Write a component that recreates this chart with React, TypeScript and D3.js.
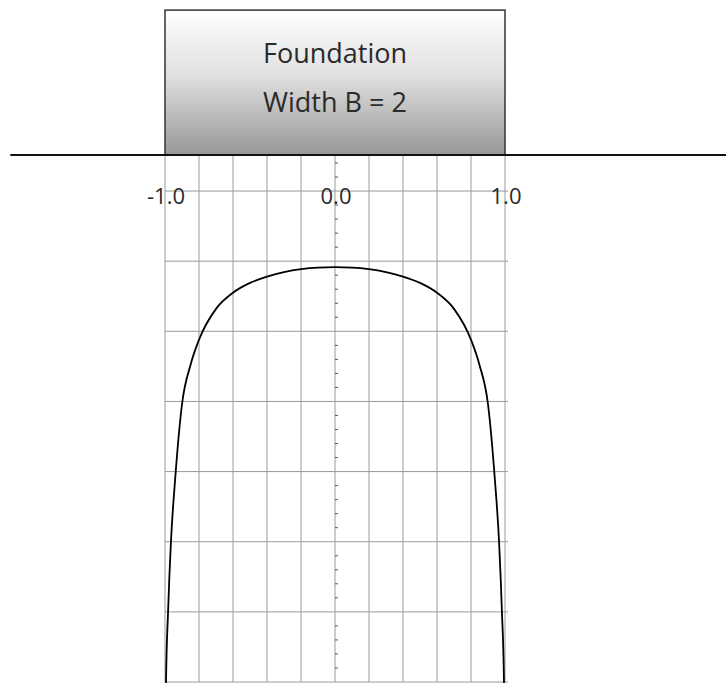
import React from 'react';
import * as d3 from 'd3';

// Contact pressure under a rigid strip foundation
const xPos = [-0.998, -0.994, -0.982, -0.965, -0.94, -0.9, -0.85, -0.8, -0.7, -0.6, -0.5, -0.4, -0.3, -0.2, -0.1, 0,
  0.1, 0.2, 0.3, 0.4, 0.5, 0.6, 0.7, 0.8, 0.85, 0.9, 0.94, 0.965, 0.982, 0.994, 0.998];
const pressure = [3.9, 3.5, 3.0, 2.5, 2.05, 1.52, 1.24, 1.06, 0.84, 0.725, 0.655, 0.61, 0.578, 0.557, 0.546, 0.543,
  0.546, 0.557, 0.578, 0.61, 0.655, 0.725, 0.84, 1.06, 1.24, 1.52, 2.05, 2.5, 3.0, 3.5, 3.9];

const xGrid = [-1, -0.8, -0.6, -0.4, -0.2, 0, 0.2, 0.4, 0.6, 0.8, 1];
const xLabelValues = [-1, 0, 1];
const xLabels = ['-1.0', '0.0', '1.0'];
const yGrid = [0, 0.5, 1, 1.5, 2, 2.5, 3, 3.5];
const yMinor = [-0.2, -0.1, 0.1, 0.2, 0.3, 0.4, 0.6, 0.7, 0.8, 0.9, 1.1, 1.2, 1.3, 1.4, 1.6, 1.7, 1.8, 1.9,
  2.1, 2.2, 2.3, 2.4, 2.6, 2.7, 2.8, 2.9, 3.1, 3.2, 3.3, 3.4];
const groundLevel = -0.257;
const foundationTop = -1.29;
const foundationEdges = [-1, 1];
const groundExtent = [-1.91, 2.35];
const foundationText = ['Foundation', 'Width B = 2'];
const foundationTextLevels = [-0.912, -0.563];

const W = 726;
const H = 683;

export default function App() {
  const x = d3.scaleLinear().domain([-1, 1]).range([165, 505]);
  const y = d3.scaleLinear().domain([groundLevel, 3.5]).range([155, 682]);

  const pts: [number, number][] = xPos.map((v, i) => [v, pressure[i]]);
  const line = d3
    .line<[number, number]>()
    .x((d) => x(d[0]))
    .y((d) => y(d[1]))
    .curve(d3.curveMonotoneX);

  const font = "'Open Sans', 'DejaVu Sans', sans-serif";
  const gridColor = '#9a9a9a';

  return (
    <svg
      width={W}
      height={H}
      style={{ position: 'absolute', left: 0, top: 0, display: 'block', background: '#fff' }}
    >
      <defs>
        <linearGradient id="fgrad" x1="0" y1="0" x2="0" y2="1">
          <stop offset="0" stopColor="#ffffff" />
          <stop offset="0.45" stopColor="#e0e0e0" />
          <stop offset="1" stopColor="#979797" />
        </linearGradient>
        <clipPath id="plotClip">
          <rect x={x(-1) - 2} y={y(groundLevel)} width={x(1) - x(-1) + 4} height={y(3.5) - y(groundLevel) + 1} />
        </clipPath>
      </defs>

      {/* vertical grid */}
      {xGrid.map((v) => (
        <line key={'vx' + v} x1={x(v)} x2={x(v)} y1={y(groundLevel)} y2={y(3.5)} stroke={gridColor} strokeWidth={1} />
      ))}
      {/* horizontal grid */}
      {yGrid.map((v) => (
        <line key={'hy' + v} x1={x(-1)} x2={x(1) + 3} y1={y(v)} y2={y(v)} stroke={gridColor} strokeWidth={1} />
      ))}
      {/* minor ticks on y axis */}
      {yMinor.map((v) => (
        <line key={'mt' + v} x1={x(0)} x2={x(0) + 3} y1={y(v)} y2={y(v)} stroke="#555" strokeWidth={1} />
      ))}

      {/* x labels */}
      {xLabelValues.map((v, i) => (
        <text
          key={'xl' + v}
          x={x(v) + 1}
          y={y(0) + 13}
          textAnchor="middle"
          fontFamily={font}
          fontSize={22}
          fill="#2a2a2a"
        >
          {xLabels[i]}
        </text>
      ))}

      {/* pressure curve */}
      <path d={line(pts) || ''} fill="none" stroke="#000" strokeWidth={1.8} clipPath="url(#plotClip)" />

      {/* foundation */}
      <rect
        x={x(foundationEdges[0])}
        y={y(foundationTop)}
        width={x(foundationEdges[1]) - x(foundationEdges[0])}
        height={y(groundLevel) - y(foundationTop)}
        fill="url(#fgrad)"
        stroke="#333"
        strokeWidth={1.5}
      />
      {foundationText.map((t, i) => (
        <text
          key={t}
          x={(x(foundationEdges[0]) + x(foundationEdges[1])) / 2}
          y={y(foundationTextLevels[i])}
          textAnchor="middle"
          fontFamily={font}
          fontSize={27}
          fill="#2a2a2a"
        >
          {t}
        </text>
      ))}

      {/* ground line */}
      <line x1={x(groundExtent[0])} x2={x(groundExtent[1])} y1={y(groundLevel)} y2={y(groundLevel)} stroke="#111" strokeWidth={2} />
    </svg>
  );
}
